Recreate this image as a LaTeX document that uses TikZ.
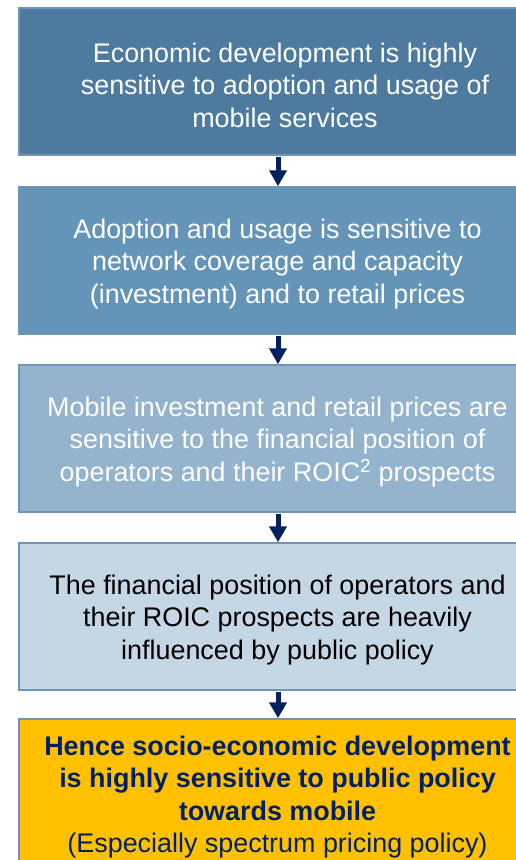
\documentclass[tikz,border=0pt]{standalone}
\usepackage{fontspec}
\setmainfont{Liberation Sans}
\usetikzlibrary{arrows.meta}
\definecolor{boxA}{HTML}{4D7A9E}
\definecolor{boxB}{HTML}{6594B9}
\definecolor{boxC}{HTML}{94B3CC}
\definecolor{boxD}{HTML}{C5D6E4}
\definecolor{boxE}{HTML}{FFC000}
\definecolor{edge}{HTML}{6F95BA}
\definecolor{navy}{HTML}{002060}
\tikzset{
  chainbox/.style={draw=edge, line width=1.5bp, rectangle, inner sep=0pt,
    minimum width=517bp, minimum height=147bp},
  boxtext/.style={align=center, inner sep=0pt,
    font=\fontsize{26.9bp}{32.6bp}\selectfont},
  flow/.style={navy, line width=5bp,
    -{Triangle[width=17bp,length=16bp]}, shorten <=1bp}
}
\begin{document}
\begin{tikzpicture}[x=1bp,y=-1bp]
  \useasboundingbox (0,0) rectangle (516,860);
  \clip (0,0) rectangle (516,860);
  \fill[white] (0,0) rectangle (516,860);

  % the chain of boxes
  \node[chainbox, fill=boxA] (b1) at (277.5,81.5) {};
  \node[boxtext, text=white] (t1) at (285,85)
    {Economic development is highly\\sensitive to adoption and usage of\\mobile services};

  \node[chainbox, fill=boxB] (b2) at (277.5,260.5) {};
  \node[boxtext, text=white] (t2) at (277.5,264)
    {Adoption and usage is sensitive to\\network coverage and capacity\\(investment) and to retail prices};

  \node[chainbox, fill=boxC] (b3) at (277.5,438.5) {};
  \node[boxtext, text=white] (t3) at (277.5,442)
    {Mobile investment and retail prices are\\sensitive to the financial position of\\operators and their ROIC\textsuperscript{2} prospects};

  \node[chainbox, fill=boxD] (b4) at (277.5,616.5) {};
  \node[boxtext, text=black] (t4) at (277.5,620)
    {The financial position of operators and\\their ROIC prospects are heavily\\influenced by public policy};

  \node[chainbox, fill=boxE] (b5) at (277.5,792.5) {};
  \node[boxtext, text=navy] (t5) at (277.5,797)
    {\textbf{Hence socio-economic development}\\\textbf{is highly sensitive to public policy}\\\textbf{towards mobile}\\(Especially spectrum pricing policy)};

  % connectors
  \draw[flow] (b1.south -| 278,0) -- (b2.north -| 278,0);
  \draw[flow] (b2.south -| 278,0) -- (b3.north -| 278,0);
  \draw[flow] (b3.south -| 278,0) -- (b4.north -| 278,0);
  \draw[flow] (b4.south -| 278,0) -- (b5.north -| 278,0);
\end{tikzpicture}
\end{document}
